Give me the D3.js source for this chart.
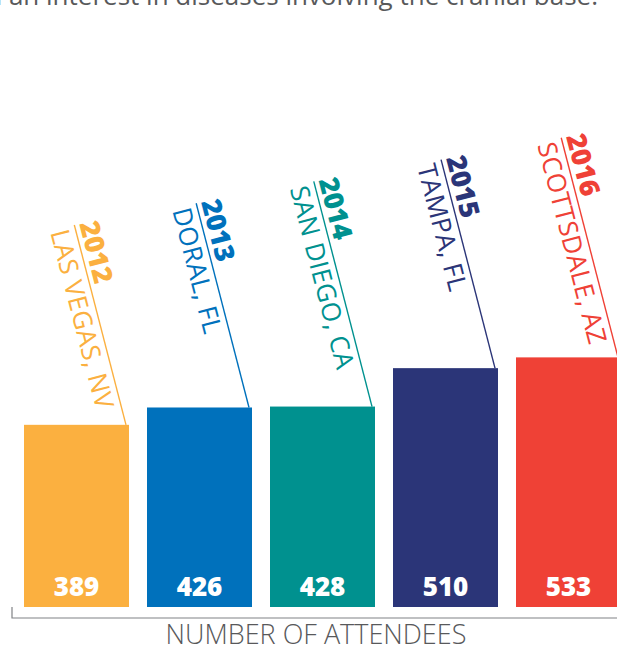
<!DOCTYPE html>
<html lang="en">

<head>
    <meta charset="UTF-8">
    <title>Attendees</title>
    <script src="https://cdnjs.cloudflare.com/ajax/libs/d3/7.8.5/d3.min.js"></script>
    <style>
        body { margin: 0; background: #fff; }
        svg { display: block; font-family: 'Open Sans', 'Noto Sans', sans-serif; }
    </style>
</head>

<body>
    <div id="chart"></div>
    <script>
        // data
        const years = ['2012', '2013', '2014', '2015', '2016'];
        const cities = ['LAS VEGAS, NV', 'DORAL, FL', 'SAN DIEGO, CA', 'TAMPA, FL', 'SCOTTSDALE, AZ'];
        const attendees = [389, 426, 428, 510, 533];
        const colors = ['#FBB040', '#0071BC', '#00918F', '#2B3578', '#EF4136'];

        const width = 617;
        const height = 648;
        const baseY = 607;

        const svg = d3.select('#chart')
            .append('svg')
            .attr('width', width)
            .attr('height', height);

        // cut-off intro sentence at the top
        svg.append('text')
            .attr('x', 598)
            .attr('y', 5)
            .attr('text-anchor', 'end')
            .style('font-size', '26px')
            .style('fill', '#58595b')
            .text('with an interest in diseases involving the cranial base.');

        const x = d3.scaleBand()
            .domain(years)
            .range([24, 621])
            .paddingInner(18 / 123)
            .paddingOuter(0);

        const y = d3.scaleLinear()
            .domain([0, 600])
            .range([baseY, 326]);

        const data = years.map((yr, i) => ({
            year: yr, city: cities[i], value: attendees[i], color: colors[i], i
        }));

        // bars
        svg.selectAll('rect.bar')
            .data(data)
            .enter()
            .append('rect')
            .attr('class', 'bar')
            .attr('x', d => x(d.year))
            .attr('y', d => y(d.value))
            .attr('width', x.bandwidth())
            .attr('height', d => y(0) - y(d.value))
            .style('fill', d => d.color);

        // value labels
        svg.selectAll('text.val')
            .data(data)
            .enter()
            .append('text')
            .attr('class', 'val')
            .attr('x', d => x(d.year) + x.bandwidth() / 2)
            .attr('y', 596)
            .attr('text-anchor', 'middle')
            .style('font-size', '26px')
            .style('font-weight', 800)
            .style('fill', '#fff')
            .text(d => d.value);

        // slanted leader lines with year + city
        const tilt = 14.5; // degrees from vertical
        const tanT = Math.tan(tilt * Math.PI / 180);
        const rot = 90 - tilt;

        const labels = svg.selectAll('g.lab')
            .data(data)
            .enter()
            .append('g')
            .attr('class', 'lab')
            .each(function (d) {
                const bx = x(d.year) + x.bandwidth() - 3;
                const by = y(d.value);
                const ty = 225 - 21.8 * d.i;
                const tx = bx - (by - ty) * tanT;
                d.len = Math.hypot(bx - tx, by - ty);
                d.tx = tx;
                d.ty = ty;
            })
            .attr('transform', d => `translate(${d.tx},${d.ty}) rotate(${rot})`);

        labels.append('line')
            .attr('x1', 0)
            .attr('y1', 0)
            .attr('x2', d => d.len)
            .attr('y2', 0)
            .style('stroke', d => d.color)
            .style('stroke-width', 1.4);

        labels.append('text')
            .attr('x', 0)
            .attr('y', -5)
            .style('font-size', '27px')
            .style('font-weight', 800)
            .style('fill', d => d.color)
            .text(d => d.year);

        labels.append('text')
            .attr('x', 1)
            .attr('y', 25)
            .style('font-size', '26px')
            .style('letter-spacing', '0.4px')
            .style('font-weight', 400)
            .style('fill', d => d.color)
            .text(d => d.city);

        // bracket under the bars
        svg.append('path')
            .attr('d', `M12,${baseY}V618H${width}`)
            .style('fill', 'none')
            .style('stroke', '#808285')
            .style('stroke-width', 1.2);

        svg.append('text')
            .attr('x', 316)
            .attr('y', 644)
            .attr('text-anchor', 'middle')
            .style('font-size', '27px')
            .style('font-weight', 300)
            .style('fill', '#58595b')
            .text('NUMBER OF ATTENDEES');
    </script>
</body>

</html>
